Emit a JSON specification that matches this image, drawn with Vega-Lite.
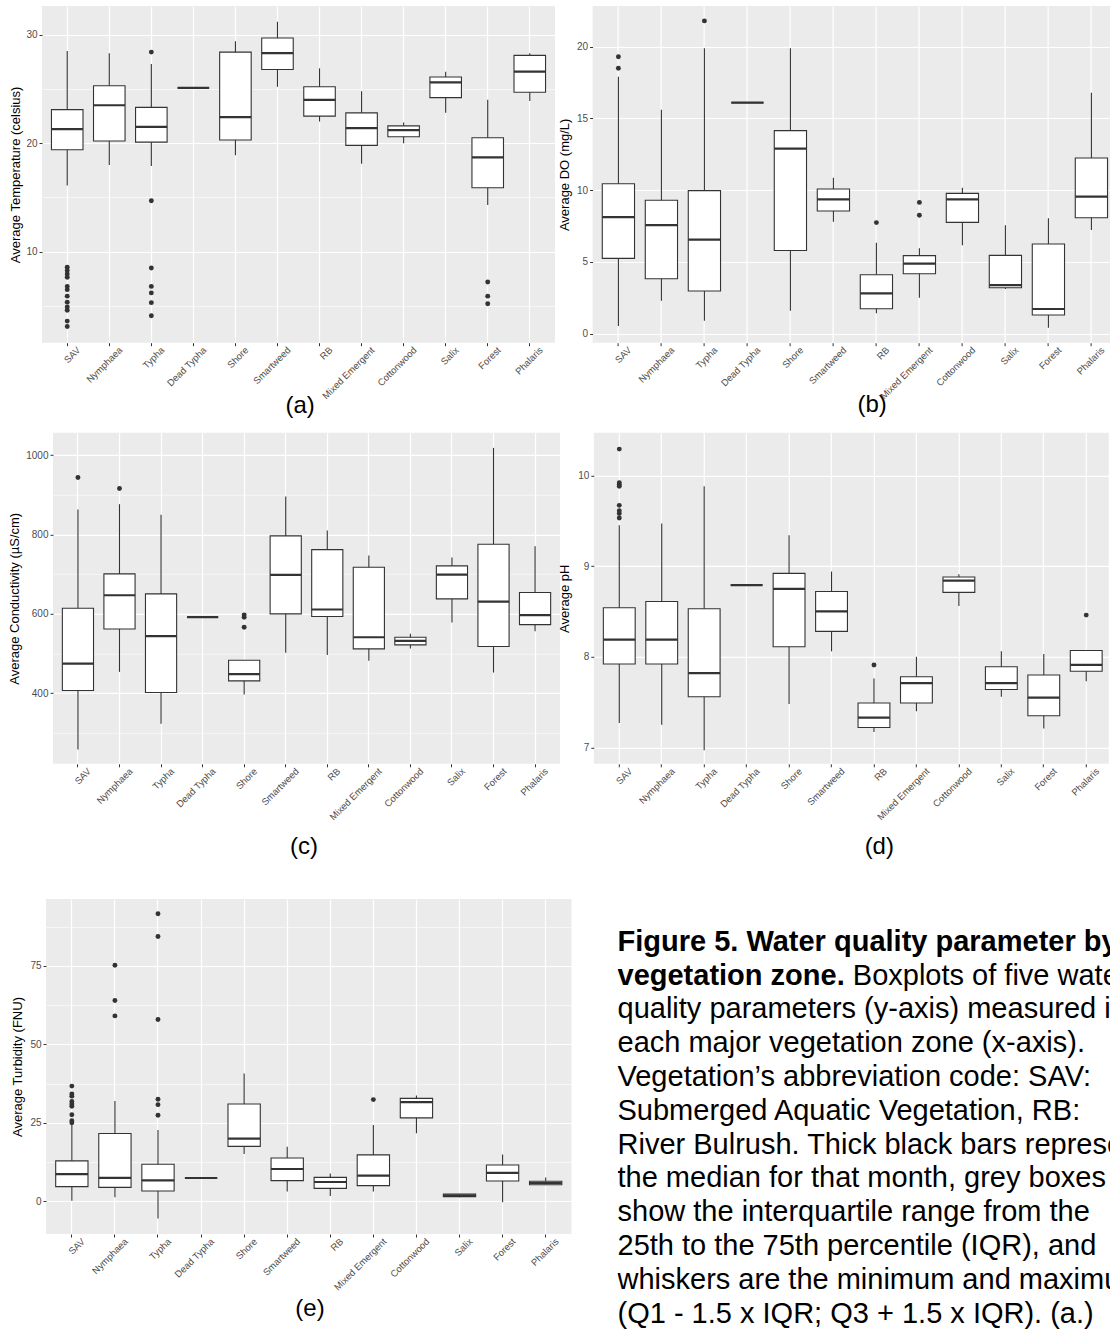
{
  "$schema": "https://vega.github.io/schema/vega-lite/v6.json",
  "usermeta": {"embedOptions": {"actions": false}},
  "background": "#FFFFFF",
  "padding": {"left": 8, "top": 6, "right": 0, "bottom": 0},
  "config": {
    "font": "Liberation Sans",
    "view": {"stroke": null},
    "axis": {
      "labelFont": "Liberation Sans",
      "titleFont": "Liberation Sans",
      "labelColor": "#4D4D4D",
      "labelFontSize": 10,
      "titleColor": "#000000",
      "titleFontWeight": "normal",
      "titleFontSize": 13,
      "tickColor": "#333333",
      "tickSize": 3,
      "tickWidth": 1,
      "domain": false,
      "gridColor": "#FFFFFF",
      "labelOverlap": false
    },
    "axisX": {"labelFontSize": 9.5}
  },
  "datasets": {
    "temperatureBox": [
      {"zone": "SAV", "lo": 16.1, "q1": 19.4, "med": 21.3, "q3": 23.1, "hi": 28.5},
      {"zone": "Nymphaea", "lo": 18.0, "q1": 20.2, "med": 23.5, "q3": 25.3, "hi": 28.3},
      {"zone": "Typha", "lo": 17.9, "q1": 20.1, "med": 21.5, "q3": 23.3, "hi": 27.3},
      {"zone": "Dead Typha", "lo": 25.1, "q1": 25.1, "med": 25.1, "q3": 25.1, "hi": 25.1},
      {"zone": "Shore", "lo": 18.9, "q1": 20.3, "med": 22.4, "q3": 28.4, "hi": 29.4},
      {"zone": "Smartweed", "lo": 25.2, "q1": 26.8, "med": 28.3, "q3": 29.7, "hi": 31.2},
      {"zone": "RB", "lo": 22.0, "q1": 22.5, "med": 24.0, "q3": 25.2, "hi": 26.9},
      {"zone": "Mixed Emergent", "lo": 18.1, "q1": 19.8, "med": 21.4, "q3": 22.8, "hi": 24.8},
      {"zone": "Cottonwood", "lo": 20.0, "q1": 20.6, "med": 21.2, "q3": 21.6, "hi": 21.9},
      {"zone": "Salix", "lo": 22.8, "q1": 24.2, "med": 25.6, "q3": 26.1, "hi": 26.6},
      {"zone": "Forest", "lo": 14.3, "q1": 15.9, "med": 18.7, "q3": 20.5, "hi": 24.0},
      {"zone": "Phalaris", "lo": 23.9, "q1": 24.7, "med": 26.6, "q3": 28.1, "hi": 28.3}
    ],
    "temperatureOut": [
      {"zone": "SAV", "value": 8.56}, {"zone": "SAV", "value": 8.26}, {"zone": "SAV", "value": 7.95},
      {"zone": "SAV", "value": 7.65}, {"zone": "SAV", "value": 6.8}, {"zone": "SAV", "value": 6.5},
      {"zone": "SAV", "value": 5.9}, {"zone": "SAV", "value": 5.35}, {"zone": "SAV", "value": 4.9},
      {"zone": "SAV", "value": 4.6}, {"zone": "SAV", "value": 3.6}, {"zone": "SAV", "value": 3.1},
      {"zone": "Typha", "value": 28.4}, {"zone": "Typha", "value": 14.7}, {"zone": "Typha", "value": 8.5},
      {"zone": "Typha", "value": 6.8}, {"zone": "Typha", "value": 6.2}, {"zone": "Typha", "value": 5.3},
      {"zone": "Typha", "value": 4.1},
      {"zone": "Forest", "value": 7.2}, {"zone": "Forest", "value": 5.9}, {"zone": "Forest", "value": 5.2}
    ],
    "doBox": [
      {"zone": "SAV", "lo": 0.53, "q1": 5.25, "med": 8.13, "q3": 10.45, "hi": 17.9},
      {"zone": "Nymphaea", "lo": 2.3, "q1": 3.83, "med": 7.57, "q3": 9.3, "hi": 15.6},
      {"zone": "Typha", "lo": 0.9, "q1": 2.97, "med": 6.55, "q3": 9.97, "hi": 19.9},
      {"zone": "Dead Typha", "lo": 16.1, "q1": 16.1, "med": 16.1, "q3": 16.1, "hi": 16.1},
      {"zone": "Shore", "lo": 1.6, "q1": 5.8, "med": 12.9, "q3": 14.15, "hi": 19.9},
      {"zone": "Smartweed", "lo": 7.8, "q1": 8.55, "med": 9.36, "q3": 10.08, "hi": 10.87},
      {"zone": "RB", "lo": 1.42, "q1": 1.74, "med": 2.81, "q3": 4.11, "hi": 6.34},
      {"zone": "Mixed Emergent", "lo": 2.51, "q1": 4.18, "med": 4.88, "q3": 5.44, "hi": 5.95},
      {"zone": "Cottonwood", "lo": 6.16, "q1": 7.76, "med": 9.36, "q3": 9.78, "hi": 10.17},
      {"zone": "Salix", "lo": 3.11, "q1": 3.2, "med": 3.39, "q3": 5.46, "hi": 7.55},
      {"zone": "Forest", "lo": 0.42, "q1": 1.3, "med": 1.72, "q3": 6.25, "hi": 8.04},
      {"zone": "Phalaris", "lo": 7.22, "q1": 8.08, "med": 9.55, "q3": 12.24, "hi": 16.8}
    ],
    "doOut": [
      {"zone": "SAV", "value": 19.3}, {"zone": "SAV", "value": 18.5},
      {"zone": "Typha", "value": 21.8},
      {"zone": "RB", "value": 7.74},
      {"zone": "Mixed Emergent", "value": 9.15}, {"zone": "Mixed Emergent", "value": 8.25}
    ],
    "conductivityBox": [
      {"zone": "SAV", "lo": 258, "q1": 406.7, "med": 474.8, "q3": 614, "hi": 863},
      {"zone": "Nymphaea", "lo": 453.8, "q1": 562, "med": 647, "q3": 700.8, "hi": 876.5},
      {"zone": "Typha", "lo": 322.7, "q1": 401.7, "med": 543.7, "q3": 650.4, "hi": 850},
      {"zone": "Dead Typha", "lo": 591.6, "q1": 591.6, "med": 591.6, "q3": 591.6, "hi": 591.6},
      {"zone": "Shore", "lo": 396.6, "q1": 431, "med": 447.9, "q3": 483, "hi": 483},
      {"zone": "Smartweed", "lo": 501.7, "q1": 600, "med": 698.3, "q3": 796.6, "hi": 895.8},
      {"zone": "RB", "lo": 496.6, "q1": 593.3, "med": 611, "q3": 762, "hi": 810},
      {"zone": "Mixed Emergent", "lo": 481.5, "q1": 511.8, "med": 541, "q3": 717.6, "hi": 747},
      {"zone": "Cottonwood", "lo": 512.6, "q1": 521.8, "med": 532, "q3": 541, "hi": 549.6},
      {"zone": "Salix", "lo": 578, "q1": 637.8, "med": 699, "q3": 721, "hi": 742},
      {"zone": "Forest", "lo": 452, "q1": 517.6, "med": 631, "q3": 775.6, "hi": 1018.5},
      {"zone": "Phalaris", "lo": 556.3, "q1": 573, "med": 596.6, "q3": 653.8, "hi": 770.6}
    ],
    "conductivityOut": [
      {"zone": "SAV", "value": 943.7},
      {"zone": "Nymphaea", "value": 916},
      {"zone": "Shore", "value": 597.5}, {"zone": "Shore", "value": 591.6}, {"zone": "Shore", "value": 566.4}
    ],
    "phBox": [
      {"zone": "SAV", "lo": 7.27, "q1": 7.92, "med": 8.19, "q3": 8.54, "hi": 9.45},
      {"zone": "Nymphaea", "lo": 7.25, "q1": 7.92, "med": 8.19, "q3": 8.61, "hi": 9.47},
      {"zone": "Typha", "lo": 6.97, "q1": 7.56, "med": 7.82, "q3": 8.53, "hi": 9.88},
      {"zone": "Dead Typha", "lo": 8.79, "q1": 8.79, "med": 8.79, "q3": 8.79, "hi": 8.79},
      {"zone": "Shore", "lo": 7.48, "q1": 8.11, "med": 8.75, "q3": 8.92, "hi": 9.34},
      {"zone": "Smartweed", "lo": 8.06, "q1": 8.28, "med": 8.5, "q3": 8.72, "hi": 8.94},
      {"zone": "RB", "lo": 7.17, "q1": 7.22, "med": 7.33, "q3": 7.49, "hi": 7.76},
      {"zone": "Mixed Emergent", "lo": 7.4, "q1": 7.49, "med": 7.71, "q3": 7.78, "hi": 8.0},
      {"zone": "Cottonwood", "lo": 8.56, "q1": 8.71, "med": 8.84, "q3": 8.88, "hi": 8.91},
      {"zone": "Salix", "lo": 7.56, "q1": 7.64, "med": 7.71, "q3": 7.89, "hi": 8.06},
      {"zone": "Forest", "lo": 7.21, "q1": 7.35, "med": 7.55, "q3": 7.8, "hi": 8.03},
      {"zone": "Phalaris", "lo": 7.73, "q1": 7.84, "med": 7.91, "q3": 8.07, "hi": 8.07}
    ],
    "phOut": [
      {"zone": "SAV", "value": 10.29}, {"zone": "SAV", "value": 9.92}, {"zone": "SAV", "value": 9.9},
      {"zone": "SAV", "value": 9.88}, {"zone": "SAV", "value": 9.67}, {"zone": "SAV", "value": 9.61},
      {"zone": "SAV", "value": 9.58}, {"zone": "SAV", "value": 9.53},
      {"zone": "RB", "value": 7.91},
      {"zone": "Phalaris", "value": 8.46}
    ],
    "turbidityBox": [
      {"zone": "SAV", "lo": 0.2, "q1": 4.7, "med": 8.7, "q3": 12.9, "hi": 24.5},
      {"zone": "Nymphaea", "lo": 1.27, "q1": 4.46, "med": 7.5, "q3": 21.6, "hi": 32.0},
      {"zone": "Typha", "lo": -5.5, "q1": 3.3, "med": 6.7, "q3": 11.8, "hi": 22.7},
      {"zone": "Dead Typha", "lo": 7.44, "q1": 7.44, "med": 7.44, "q3": 7.44, "hi": 7.44},
      {"zone": "Shore", "lo": 15.1, "q1": 17.5, "med": 20.0, "q3": 31.0, "hi": 40.7},
      {"zone": "Smartweed", "lo": 3.1, "q1": 6.6, "med": 10.3, "q3": 13.8, "hi": 17.4},
      {"zone": "RB", "lo": 1.7, "q1": 4.14, "med": 6.16, "q3": 7.65, "hi": 8.9},
      {"zone": "Mixed Emergent", "lo": 3.1, "q1": 5.0, "med": 8.2, "q3": 14.8, "hi": 24.3},
      {"zone": "Cottonwood", "lo": 21.7, "q1": 26.6, "med": 31.6, "q3": 32.8, "hi": 33.7},
      {"zone": "Salix", "lo": 1.27, "q1": 1.5, "med": 1.9, "q3": 2.36, "hi": 2.4},
      {"zone": "Forest", "lo": -0.3, "q1": 6.5, "med": 9.1, "q3": 11.6, "hi": 14.9},
      {"zone": "Phalaris", "lo": 5.2, "q1": 5.3, "med": 5.85, "q3": 6.4, "hi": 7.6}
    ],
    "turbidityOut": [
      {"zone": "SAV", "value": 36.7}, {"zone": "SAV", "value": 34.2}, {"zone": "SAV", "value": 33.5},
      {"zone": "SAV", "value": 31.8}, {"zone": "SAV", "value": 31.0}, {"zone": "SAV", "value": 30.3},
      {"zone": "SAV", "value": 27.6}, {"zone": "SAV", "value": 25.7}, {"zone": "SAV", "value": 25.0},
      {"zone": "Nymphaea", "value": 75.2}, {"zone": "Nymphaea", "value": 63.95}, {"zone": "Nymphaea", "value": 59.07},
      {"zone": "Typha", "value": 91.6}, {"zone": "Typha", "value": 84.35}, {"zone": "Typha", "value": 57.9},
      {"zone": "Typha", "value": 32.5}, {"zone": "Typha", "value": 30.8}, {"zone": "Typha", "value": 27.4},
      {"zone": "Mixed Emergent", "value": 32.4}
    ],
    "caption": [
      {"line": 1, "part": "bold", "text": "Figure 5. Water quality parameter by"},
      {"line": 2, "part": "bold", "text": "vegetation zone."},
      {"line": 2, "part": "tail", "text": "Boxplots of five water"},
      {"line": 3, "part": "plain", "text": "quality parameters (y-axis) measured in"},
      {"line": 4, "part": "plain", "text": "each major vegetation zone (x-axis)."},
      {"line": 5, "part": "plain", "text": "Vegetation’s abbreviation code: SAV:"},
      {"line": 6, "part": "plain", "text": "Submerged Aquatic Vegetation, RB:"},
      {"line": 7, "part": "plain", "text": "River Bulrush. Thick black bars represent"},
      {"line": 8, "part": "plain", "text": "the median for that month, grey boxes"},
      {"line": 9, "part": "plain", "text": "show the interquartile range from the"},
      {"line": 10, "part": "plain", "text": "25th to the 75th percentile (IQR), and"},
      {"line": 11, "part": "plain", "text": "whiskers are the minimum and maximum"},
      {"line": 12, "part": "plain", "text": "(Q1 - 1.5 x IQR; Q3 + 1.5 x IQR).  (a.)"}
    ]
  },
  "vconcat": [
    {
      "hconcat": [
        {
          "width": 513, "height": 336.7,
          "view": {"fill": "#EBEBEB"},
          "layer": [
            {"data": {"name": "temperatureBox"},
             "mark": {"type": "rule", "color": "#333333", "strokeWidth": 1.1},
             "encoding": {
               "x": {"field": "zone", "type": "nominal", "title": "(a)",
                     "scale": {"type": "band", "domain": ["SAV", "Nymphaea", "Typha", "Dead Typha", "Shore", "Smartweed", "RB", "Mixed Emergent", "Cottonwood", "Salix", "Forest", "Phalaris"], "paddingInner": 0, "paddingOuter": 0.1},
                     "axis": {"bandPosition": 0.5, "grid": true, "gridWidth": 1.2, "labelAngle": -45, "labelAlign": "right", "labelBaseline": "top", "labelPadding": -1, "labelOffset": 8, "titleFontSize": 24, "titleX": 257.6, "titleY": 70, "titleBaseline": "alphabetic", "titleAlign": "center", "titleAngle": 0}},
               "y": {"field": "lo", "type": "quantitative", "title": "Average Temperature (celsius)",
                     "scale": {"domain": [1.61, 32.65], "nice": false, "zero": false},
                     "axis": {"values": [5, 10, 15, 20, 25, 30], "format": "d", "labelExpr": "datum.value % 10 === 0 ? datum.label : ''", "gridWidth": {"condition": {"test": "datum.value % 10 === 0", "value": 1.2}, "value": 0.6}, "tickOpacity": {"condition": {"test": "datum.value % 10 === 0", "value": 1}, "value": 0}, "labelPadding": 2, "titleX": -20, "titleBaseline": "bottom"}},
               "y2": {"field": "hi"}}},
            {"data": {"name": "temperatureBox"},
             "mark": {"type": "bar", "fill": "#FFFFFF", "stroke": "#333333", "strokeWidth": 1.1, "width": {"band": 0.75}},
             "encoding": {"x": {"field": "zone", "type": "nominal", "title": "(a)"}, "y": {"field": "q1", "type": "quantitative", "title": "Average Temperature (celsius)"}, "y2": {"field": "q3"}}},
            {"data": {"name": "temperatureBox"},
             "mark": {"type": "bar", "fill": "transparent", "stroke": "#333333", "strokeWidth": 2.2, "width": {"band": 0.75}},
             "encoding": {"x": {"field": "zone", "type": "nominal", "title": "(a)"}, "y": {"field": "med", "type": "quantitative", "title": "Average Temperature (celsius)"}, "y2": {"field": "med"}}},
            {"data": {"name": "temperatureOut"},
             "mark": {"type": "circle", "color": "#333333", "opacity": 1, "size": 24},
             "encoding": {"x": {"field": "zone", "type": "nominal", "title": "(a)"}, "y": {"field": "value", "type": "quantitative", "title": "Average Temperature (celsius)"}}}
          ]
        },
        {
          "width": 518, "height": 336.7,
          "view": {"fill": "#EBEBEB"},
          "layer": [
            {"data": {"name": "doBox"},
             "mark": {"type": "rule", "color": "#333333", "strokeWidth": 1.1},
             "encoding": {
               "x": {"field": "zone", "type": "nominal", "title": "(b)",
                     "scale": {"type": "band", "domain": ["SAV", "Nymphaea", "Typha", "Dead Typha", "Shore", "Smartweed", "RB", "Mixed Emergent", "Cottonwood", "Salix", "Forest", "Phalaris"], "paddingInner": 0, "paddingOuter": 0.1, "range": [0, 524.6]},
                     "axis": {"bandPosition": 0.5, "grid": true, "gridWidth": 1.2, "labelAngle": -45, "labelAlign": "right", "labelBaseline": "top", "labelPadding": -1, "labelOffset": 8, "titleFontSize": 24, "titleX": 279, "titleY": 69, "titleBaseline": "alphabetic", "titleAlign": "center", "titleAngle": 0}},
               "y": {"field": "lo", "type": "quantitative", "title": "Average DO (mg/L)",
                     "scale": {"domain": [-0.63, 22.84], "nice": false, "zero": false},
                     "axis": {"values": [0, 2.5, 5, 7.5, 10, 12.5, 15, 17.5, 20, 22.5], "format": "d", "labelExpr": "datum.value % 5 === 0 ? datum.label : ''", "gridWidth": {"condition": {"test": "datum.value % 5 === 0", "value": 1.2}, "value": 0.6}, "tickOpacity": {"condition": {"test": "datum.value % 5 === 0", "value": 1}, "value": 0}, "labelPadding": 2, "titleX": -21, "titleBaseline": "bottom"}},
               "y2": {"field": "hi"}}},
            {"data": {"name": "doBox"},
             "mark": {"type": "bar", "fill": "#FFFFFF", "stroke": "#333333", "strokeWidth": 1.1, "width": {"band": 0.75}},
             "encoding": {"x": {"field": "zone", "type": "nominal", "title": "(b)"}, "y": {"field": "q1", "type": "quantitative", "title": "Average DO (mg/L)"}, "y2": {"field": "q3"}}},
            {"data": {"name": "doBox"},
             "mark": {"type": "bar", "fill": "transparent", "stroke": "#333333", "strokeWidth": 2.2, "width": {"band": 0.75}},
             "encoding": {"x": {"field": "zone", "type": "nominal", "title": "(b)"}, "y": {"field": "med", "type": "quantitative", "title": "Average DO (mg/L)"}, "y2": {"field": "med"}}},
            {"data": {"name": "doOut"},
             "mark": {"type": "circle", "color": "#333333", "opacity": 1, "size": 24},
             "encoding": {"x": {"field": "zone", "type": "nominal", "title": "(b)"}, "y": {"field": "value", "type": "quantitative", "title": "Average DO (mg/L)"}}}
          ]
        }
      ],
      "spacing": 37.6,
      "bounds": "flush"
    },
    {
      "vconcat": [
        {
          "hconcat": [
            {"width": 11, "height": 10, "data": {"values": []}, "mark": {"type": "point", "opacity": 0}, "encoding": {}},
            {
              "hconcat": [
                {
                  "width": 507, "height": 331,
                  "view": {"fill": "#EBEBEB"},
                  "layer": [
                    {"data": {"name": "conductivityBox"},
                     "mark": {"type": "rule", "color": "#333333", "strokeWidth": 1.1},
                     "encoding": {
                       "x": {"field": "zone", "type": "nominal", "title": "(c)",
                             "scale": {"type": "band", "domain": ["SAV", "Nymphaea", "Typha", "Dead Typha", "Shore", "Smartweed", "RB", "Mixed Emergent", "Cottonwood", "Salix", "Forest", "Phalaris"], "paddingInner": 0, "paddingOuter": 0.1},
                             "axis": {"bandPosition": 0.5, "grid": true, "gridWidth": 1.2, "labelAngle": -45, "labelAlign": "right", "labelBaseline": "top", "labelPadding": -1, "labelOffset": 8, "titleFontSize": 24, "titleX": 250.6, "titleY": 90, "titleBaseline": "alphabetic", "titleAlign": "center", "titleAngle": 0}},
                       "y": {"field": "lo", "type": "quantitative", "title": "Average Conductivity (µS/cm)",
                             "scale": {"domain": [222, 1056.5], "nice": false, "zero": false},
                             "axis": {"values": [300, 400, 500, 600, 700, 800, 900, 1000], "format": "d", "labelExpr": "datum.value % 200 === 0 ? datum.label : ''", "gridWidth": {"condition": {"test": "datum.value % 200 === 0", "value": 1.2}, "value": 0.6}, "tickOpacity": {"condition": {"test": "datum.value % 200 === 0", "value": 1}, "value": 0}, "labelPadding": 2, "titleX": -32, "titleBaseline": "bottom"}},
                       "y2": {"field": "hi"}}},
                    {"data": {"name": "conductivityBox"},
                     "mark": {"type": "bar", "fill": "#FFFFFF", "stroke": "#333333", "strokeWidth": 1.1, "width": {"band": 0.75}},
                     "encoding": {"x": {"field": "zone", "type": "nominal", "title": "(c)"}, "y": {"field": "q1", "type": "quantitative", "title": "Average Conductivity (µS/cm)"}, "y2": {"field": "q3"}}},
                    {"data": {"name": "conductivityBox"},
                     "mark": {"type": "bar", "fill": "transparent", "stroke": "#333333", "strokeWidth": 2.2, "width": {"band": 0.75}},
                     "encoding": {"x": {"field": "zone", "type": "nominal", "title": "(c)"}, "y": {"field": "med", "type": "quantitative", "title": "Average Conductivity (µS/cm)"}, "y2": {"field": "med"}}},
                    {"data": {"name": "conductivityOut"},
                     "mark": {"type": "circle", "color": "#333333", "opacity": 1, "size": 24},
                     "encoding": {"x": {"field": "zone", "type": "nominal", "title": "(c)"}, "y": {"field": "value", "type": "quantitative", "title": "Average Conductivity (µS/cm)"}}}
                  ]
                },
                {
                  "width": 515, "height": 331,
                  "view": {"fill": "#EBEBEB"},
                  "layer": [
                    {"data": {"name": "phBox"},
                     "mark": {"type": "rule", "color": "#333333", "strokeWidth": 1.1},
                     "encoding": {
                       "x": {"field": "zone", "type": "nominal", "title": "(d)",
                             "scale": {"type": "band", "domain": ["SAV", "Nymphaea", "Typha", "Dead Typha", "Shore", "Smartweed", "RB", "Mixed Emergent", "Cottonwood", "Salix", "Forest", "Phalaris"], "paddingInner": 0, "paddingOuter": 0.1, "range": [0, 517.9]},
                             "axis": {"bandPosition": 0.5, "grid": true, "gridWidth": 1.2, "labelAngle": -45, "labelAlign": "right", "labelBaseline": "top", "labelPadding": -1, "labelOffset": 8, "titleFontSize": 24, "titleX": 285, "titleY": 90, "titleBaseline": "alphabetic", "titleAlign": "center", "titleAngle": 0}},
                       "y": {"field": "lo", "type": "quantitative", "title": "Average pH",
                             "scale": {"domain": [6.82, 10.47], "nice": false, "zero": false},
                             "axis": {"values": [7, 7.5, 8, 8.5, 9, 9.5, 10], "format": "d", "labelExpr": "datum.value % 1 === 0 ? datum.label : ''", "gridWidth": {"condition": {"test": "datum.value % 1 === 0", "value": 1.2}, "value": 0.6}, "tickOpacity": {"condition": {"test": "datum.value % 1 === 0", "value": 1}, "value": 0}, "labelPadding": 2, "titleX": -22, "titleBaseline": "bottom"}},
                       "y2": {"field": "hi"}}},
                    {"data": {"name": "phBox"},
                     "mark": {"type": "bar", "fill": "#FFFFFF", "stroke": "#333333", "strokeWidth": 1.1, "width": {"band": 0.75}},
                     "encoding": {"x": {"field": "zone", "type": "nominal", "title": "(d)"}, "y": {"field": "q1", "type": "quantitative", "title": "Average pH"}, "y2": {"field": "q3"}}},
                    {"data": {"name": "phBox"},
                     "mark": {"type": "bar", "fill": "transparent", "stroke": "#333333", "strokeWidth": 2.2, "width": {"band": 0.75}},
                     "encoding": {"x": {"field": "zone", "type": "nominal", "title": "(d)"}, "y": {"field": "med", "type": "quantitative", "title": "Average pH"}, "y2": {"field": "med"}}},
                    {"data": {"name": "phOut"},
                     "mark": {"type": "circle", "color": "#333333", "opacity": 1, "size": 24},
                     "encoding": {"x": {"field": "zone", "type": "nominal", "title": "(d)"}, "y": {"field": "value", "type": "quantitative", "title": "Average pH"}}}
                  ]
                }
              ],
              "spacing": 33.8,
              "bounds": "flush"
            }
          ],
          "spacing": 0,
          "bounds": "flush"
        },
        {
          "hconcat": [
            {"width": 3.6, "height": 10, "data": {"values": []}, "mark": {"type": "point", "opacity": 0}, "encoding": {}},
            {
              "hconcat": [
                {
                  "width": 525.5, "height": 335,
                  "view": {"fill": "#EBEBEB"},
                  "layer": [
                    {"data": {"name": "turbidityBox"},
                     "mark": {"type": "rule", "color": "#333333", "strokeWidth": 1.1},
                     "encoding": {
                       "x": {"field": "zone", "type": "nominal", "title": "(e)",
                             "scale": {"type": "band", "domain": ["SAV", "Nymphaea", "Typha", "Dead Typha", "Shore", "Smartweed", "RB", "Mixed Emergent", "Cottonwood", "Salix", "Forest", "Phalaris"], "paddingInner": 0, "paddingOuter": 0.1},
                             "axis": {"bandPosition": 0.5, "grid": true, "gridWidth": 1.2, "labelAngle": -45, "labelAlign": "right", "labelBaseline": "top", "labelPadding": -1, "labelOffset": 8, "titleFontSize": 24, "titleX": 263.5, "titleY": 81, "titleBaseline": "alphabetic", "titleAlign": "center", "titleAngle": 0}},
                       "y": {"field": "lo", "type": "quantitative", "title": "Average Turbidity (FNU)",
                             "scale": {"domain": [-10.4, 96.3], "nice": false, "zero": false},
                             "axis": {"values": [0, 12.5, 25, 37.5, 50, 62.5, 75, 87.5], "format": "d", "labelExpr": "datum.value % 25 === 0 ? datum.label : ''", "gridWidth": {"condition": {"test": "datum.value % 25 === 0", "value": 1.2}, "value": 0.6}, "tickOpacity": {"condition": {"test": "datum.value % 25 === 0", "value": 1}, "value": 0}, "labelPadding": 2, "titleX": -22, "titleBaseline": "bottom"}},
                       "y2": {"field": "hi"}}},
                    {"data": {"name": "turbidityBox"},
                     "mark": {"type": "bar", "fill": "#FFFFFF", "stroke": "#333333", "strokeWidth": 1.1, "width": {"band": 0.75}},
                     "encoding": {"x": {"field": "zone", "type": "nominal", "title": "(e)"}, "y": {"field": "q1", "type": "quantitative", "title": "Average Turbidity (FNU)"}, "y2": {"field": "q3"}}},
                    {"data": {"name": "turbidityBox"},
                     "mark": {"type": "bar", "fill": "transparent", "stroke": "#333333", "strokeWidth": 2.2, "width": {"band": 0.75}},
                     "encoding": {"x": {"field": "zone", "type": "nominal", "title": "(e)"}, "y": {"field": "med", "type": "quantitative", "title": "Average Turbidity (FNU)"}, "y2": {"field": "med"}}},
                    {"data": {"name": "turbidityOut"},
                     "mark": {"type": "circle", "color": "#333333", "opacity": 1, "size": 24},
                     "encoding": {"x": {"field": "zone", "type": "nominal", "title": "(e)"}, "y": {"field": "value", "type": "quantitative", "title": "Average Turbidity (FNU)"}}}
                  ]
                },
                {
                  "width": 494, "height": 430,
                  "data": {"name": "caption"},
                  "layer": [
                    {"transform": [{"filter": "datum.part === 'bold'"}],
                     "mark": {"type": "text", "align": "left", "baseline": "alphabetic", "fontSize": 29, "fontWeight": "bold", "font": "Liberation Sans", "color": "#000000", "clip": true},
                     "encoding": {"x": {"value": 0}, "y": {"field": "line", "type": "quantitative", "scale": {"domain": [-0.5296, 12.192], "reverse": true, "nice": false, "zero": false}, "axis": null}, "text": {"field": "text"}}},
                    {"transform": [{"filter": "datum.part === 'plain'"}],
                     "mark": {"type": "text", "align": "left", "baseline": "alphabetic", "fontSize": 29, "fontWeight": "normal", "font": "Liberation Sans", "color": "#000000", "clip": true},
                     "encoding": {"x": {"value": 0}, "y": {"field": "line", "type": "quantitative", "axis": null}, "text": {"field": "text"}}},
                    {"transform": [{"filter": "datum.part === 'tail'"}],
                     "mark": {"type": "text", "align": "left", "baseline": "alphabetic", "fontSize": 29, "fontWeight": "normal", "font": "Liberation Sans", "color": "#000000", "clip": true, "dx": 235.3},
                     "encoding": {"x": {"value": 0}, "y": {"field": "line", "type": "quantitative", "axis": null}, "text": {"field": "text"}}}
                  ]
                }
              ],
              "spacing": 45.5,
              "bounds": "flush"
            }
          ],
          "spacing": 0,
          "bounds": "flush"
        }
      ],
      "spacing": 40.2,
      "bounds": "full"
    }
  ],
  "spacing": 14.8,
  "bounds": "full"
}
